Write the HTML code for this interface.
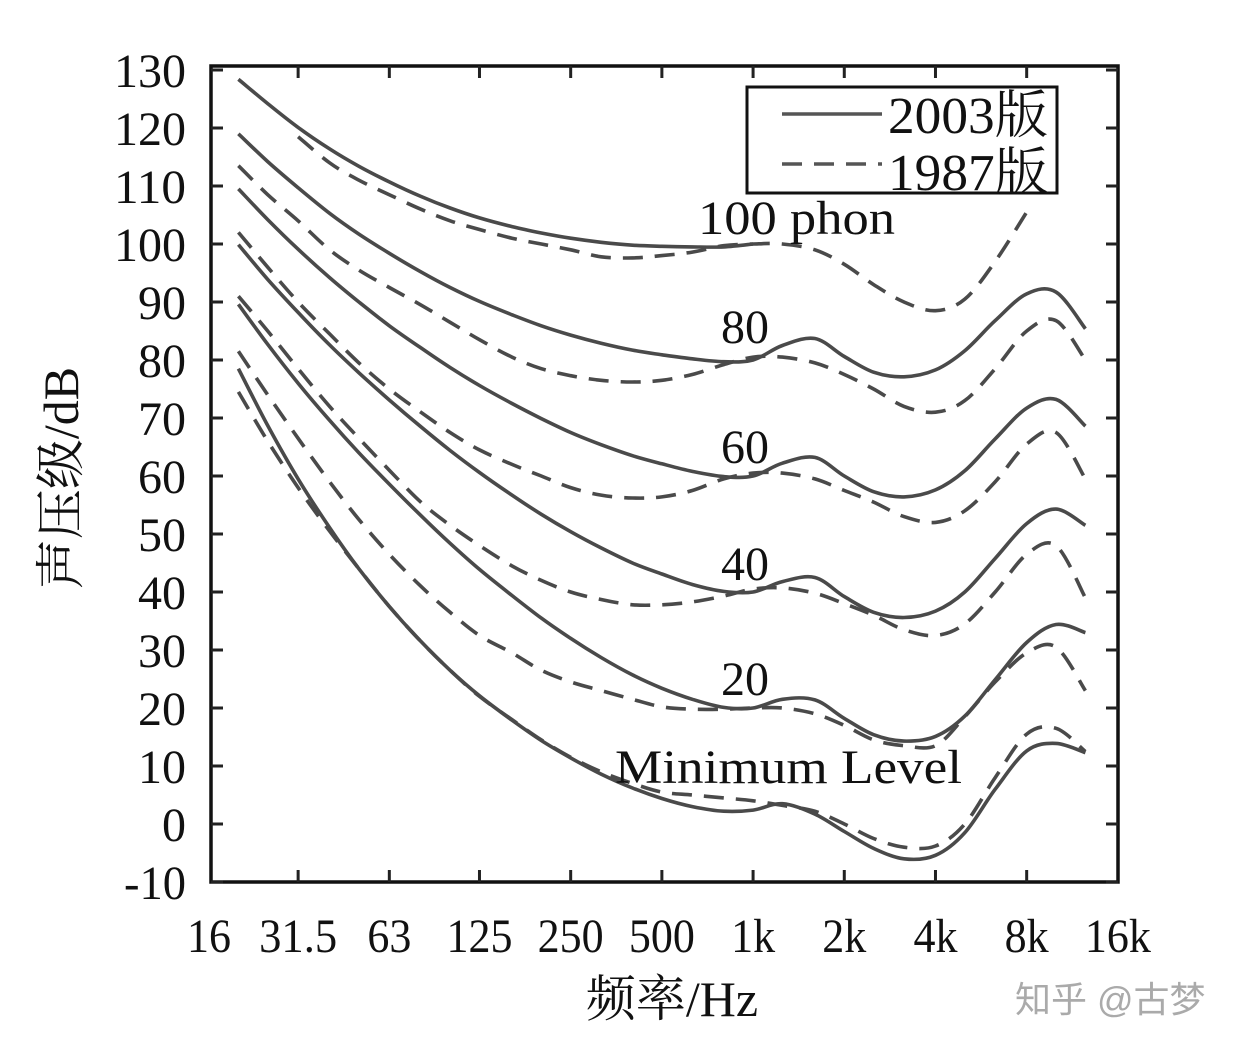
<!DOCTYPE html>
<html><head><meta charset="utf-8"><style>
html,body{margin:0;padding:0;background:#fff;}
svg{display:block;}
text{font-family:"Liberation Serif","Noto Serif CJK SC",serif;fill:#111;}
</style></head><body>
<svg id="chart" width="1242" height="1051" viewBox="0 0 1242 1051" xmlns="http://www.w3.org/2000/svg">
<g id="frame"></g>
<g id="curves"></g>
<g id="labels"></g>
</svg>
<script>
const freqs = [20,25,31.5,40,50,63,80,100,125,160,200,250,315,400,500,630,800,1000,1250,1600,2000,2500,3150,4000,5000,6300,8000,10000,12500];
const xTicks = [16,31.5,63,125,250,500,1000,2000,4000,8000,16000];
const xTickLabels = ["16","31.5","63","125","250","500","1k","2k","4k","8k","16k"];
const yTicks = [130,120,110,100,90,80,70,60,50,40,30,20,10,0,-10];
// ISO 226:2003 (solid)
const solid100 = [128.4,124.2,120.1,116.4,113.4,110.7,108.2,106.2,104.5,103,101.9,101,100.3,99.8,99.6,99.5,99.5,100];
const solid80 = [119.0,114.2,109.7,105.3,101.7,98.4,95.2,92.5,90.1,87.8,85.9,84.3,82.9,81.7,80.9,80.2,79.7,80.0,82.5,83.7,80.6,77.9,77.1,78.3,81.6,86.8,91.4,91.7,85.4];
const solid60 = [109.5,104.2,99.1,94.2,90.0,85.9,82.1,78.7,75.6,72.5,69.9,67.5,65.4,63.5,62.1,60.8,59.9,60.0,62.2,63.2,60.0,57.3,56.4,57.6,60.9,66.4,71.7,73.2,68.6];
const solid40 = [99.9,93.9,88.2,82.6,77.8,73.1,68.5,64.4,60.6,56.7,53.4,50.4,47.6,45.0,43.1,41.3,40.1,40.0,41.8,42.5,39.2,36.5,35.6,36.7,40.0,45.8,51.8,54.3,51.5];
const solid20 = [89.6,82.7,76.0,69.6,64.0,58.6,53.2,48.4,43.9,39.4,35.5,32.0,28.7,25.7,23.4,21.5,20.1,20.0,21.5,21.4,18.2,15.4,14.3,15.1,18.6,24.9,31.3,34.4,33.0];
const solidMin = [78.5,68.7,59.5,51.1,44.0,37.5,31.5,26.5,22.1,17.9,14.4,11.4,8.6,6.2,4.4,3.0,2.2,2.4,3.5,1.7,-1.3,-4.2,-6.0,-5.4,-1.5,6.0,12.6,13.9,12.3];
// ISO 226:1987 (dashed)
const dashed100 = [null,null,118.5,114,111,108.5,106,104,102.5,101,100,99,97.8,97.6,98,98.6,99.7,100,100,99,96.5,93,90,88.5,90.5,97,105.5];
const dashed80 = [113.5,108.5,104,99,95.5,92.5,89.5,86.5,83.5,80.5,78.5,77.3,76.5,76.2,76.5,77.5,79.2,80.5,80.5,79.5,77.5,75,72,71,73,78.5,85,86.8,80];
const dashed60 = [102,96,90,84.5,79.5,75,71,67.5,64.5,62,60,58,56.7,56.2,56.4,57.5,59.5,60.5,60.5,59.5,57.5,55.5,53,52,54,59,65.5,67.5,59.5];
const dashed40 = [91,85,78.5,72,66.5,61,55.5,51.5,48,44.5,42,40,38.7,37.8,37.8,38.3,39.3,40.5,40.7,39.8,38,36,33.5,32.5,34.5,40,46.5,48,39];
const dashed20 = [81.5,74,66.5,59,52.5,46.5,41,36.5,32.5,29.5,26.5,24.5,23,21.5,20.2,19.8,19.8,20,20,19,17,14.5,13.5,13.5,18.5,24.5,29.5,30.5,23];
const dashedMin = [74.5,66,58,50.5,44,37.5,31.5,26.5,22,18,14.5,11.5,9,7,5.5,5,4.5,4,3.2,2.2,0,-2.5,-4,-3.8,0,8,15.5,16.5,12.5];

const NS="http://www.w3.org/2000/svg";
const X0=209, PX_OCT=91.2, Y0=824, PX_DB=5.8;
const L=211, R=1118, T=66, B=882;
function xs(f){return X0+PX_OCT*Math.log2(f/16);}
function ys(v){return Y0-v*PX_DB;}
function mk(tag,attrs,parent){const e=document.createElementNS(NS,tag);for(const k in attrs)e.setAttribute(k,attrs[k]);parent.appendChild(e);return e;}
const frame=document.getElementById('frame'), curves=document.getElementById('curves'), labels=document.getElementById('labels');

const box=mk('rect',{x:L,y:T,width:R-L,height:B-T,fill:'none',stroke:'#111','stroke-width':3.5},frame);


yTicks.forEach(v=>{
  const y=ys(v);
  const t1=mk('line',{x1:L,x2:L+12,y1:y,y2:y,stroke:'#222','stroke-width':3},frame);
  
  
  const t2=mk('line',{x1:R-12,x2:R,y1:y,y2:y,stroke:'#222','stroke-width':3},frame);
  
  
  const s=String(v);
  const tx=mk('text',{x:186,y:y+17,'text-anchor':'end','font-size':48,'textLength':s.replace('-','').length*24+(s.includes('-')?14:0),'lengthAdjust':'spacingAndGlyphs'},labels);
  tx.textContent=s;
  
  
});
xTicks.forEach((f,i)=>{
  const x=xs(f);
  if(i>0&&i<xTicks.length-1){
    const a=mk('line',{x1:x,x2:x,y1:B-12,y2:B,stroke:'#222','stroke-width':3},frame);
    
    
    const b=mk('line',{x1:x,x2:x,y1:T,y2:T+12,stroke:'#222','stroke-width':3},frame);
    
    
  }
  const tx=mk('text',{x:x,y:952,'text-anchor':'middle','font-size':48,'textLength':(xTickLabels[i].length*22-(xTickLabels[i].includes('.')?10:0)),'lengthAdjust':'spacingAndGlyphs'},labels);
  tx.textContent=xTickLabels[i];
  
  
});

function pathFor(vals){
  const pts=[];
  vals.forEach((v,i)=>{if(v!==null&&v!==undefined)pts.push([xs(freqs[i]),ys(v)]);});
  let d='M'+pts[0][0].toFixed(1)+','+pts[0][1].toFixed(1);
  for(let i=0;i<pts.length-1;i++){
    const p0=pts[Math.max(0,i-1)],p1=pts[i],p2=pts[i+1],p3=pts[Math.min(pts.length-1,i+2)];
    const c1=[p1[0]+(p2[0]-p0[0])/6,p1[1]+(p2[1]-p0[1])/6];
    const c2=[p2[0]-(p3[0]-p1[0])/6,p2[1]-(p3[1]-p1[1])/6];
    d+=' C'+c1[0].toFixed(1)+','+c1[1].toFixed(1)+' '+c2[0].toFixed(1)+','+c2[1].toFixed(1)+' '+p2[0].toFixed(1)+','+p2[1].toFixed(1);
  }
  return d;
}
const series=[
 ['curve-2003-100-phon',solid100,false],['curve-2003-80-phon',solid80,false],['curve-2003-60-phon',solid60,false],
 ['curve-2003-40-phon',solid40,false],['curve-2003-20-phon',solid20,false],['curve-2003-minimum',solidMin,false],
 ['curve-1987-100-phon',dashed100,true],['curve-1987-80-phon',dashed80,true],['curve-1987-60-phon',dashed60,true],
 ['curve-1987-40-phon',dashed40,true],['curve-1987-20-phon',dashed20,true],['curve-1987-minimum',dashedMin,true]];
series.forEach(s=>{
  const p=mk('path',{d:pathFor(s[1]),fill:'none',stroke:'#4a4a4a','stroke-width':3.6,'stroke-linecap':'butt'},curves);
  if(s[2])p.setAttribute('stroke-dasharray','20 12');
  
  
});
</script>
<svg style="position:absolute;left:0;top:0" width="1242" height="1051" xmlns="http://www.w3.org/2000/svg">
<g>
<rect x="747" y="87" width="310" height="106" fill="#fff" stroke="#111" stroke-width="3"/>
<line x1="782" y1="114" x2="882" y2="114" stroke="#555" stroke-width="3.4"/>
<text x="888" y="133" font-size="52" textLength="160" lengthAdjust="spacingAndGlyphs">2003版</text>
<line x1="782" y1="164" x2="882" y2="164" stroke="#555" stroke-width="3.4" stroke-dasharray="20 12"/>
<text x="888" y="190" font-size="52" textLength="160" lengthAdjust="spacingAndGlyphs">1987版</text>
</g>
<text x="698" y="234" font-size="48" textLength="197" lengthAdjust="spacingAndGlyphs">100 phon</text>
<text x="721" y="343" font-size="48">80</text>
<text x="721" y="463" font-size="48">60</text>
<text x="721" y="580" font-size="48">40</text>
<text x="721" y="695" font-size="48">20</text>
<text x="615" y="783" font-size="48" textLength="347" lengthAdjust="spacingAndGlyphs">Minimum Level</text>
<text x="672" y="1016" font-size="50" text-anchor="middle">频率/Hz</text>
<text transform="translate(78,478) rotate(-90)" font-size="50" text-anchor="middle">声压级/dB</text>
<text x="1015" y="1012" font-size="36" style="font-family:'Liberation Sans','Noto Sans CJK SC',sans-serif;fill:#aaa">知乎 @古梦</text>
</svg>
</body></html>
